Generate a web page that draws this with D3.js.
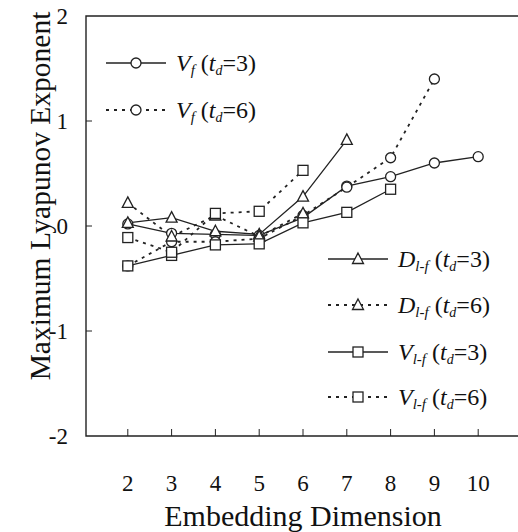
<!DOCTYPE html>
<html lang="en">
<head>
<meta charset="UTF-8">
<title>Maximum Lyapunov Exponent</title>
<script src="https://d3js.org/d3.v7.min.js"></script>
<style>
  body { margin: 0; background: #fff; }
</style>
</head>
<body>
<div id="chart"></div>
<script>
// embedding dimensions
const dims = [2, 3, 4, 5, 6, 7, 8, 9, 10];
const yTicks = [-2, -1, 0, 1, 2];

// series values (start at dimension 2)
const vfTd3  = [0.02, -0.07, -0.08, -0.09, 0.08, 0.38, 0.47, 0.60, 0.66];
const vfTd6  = [-0.38, -0.15, -0.15, -0.12, 0.10, 0.37, 0.65, 1.40];
const dlfTd3 = [0.03, 0.08, -0.05, -0.08, 0.28, 0.82];
const dlfTd6 = [0.22, -0.10, 0.10, -0.10, 0.12];
const vlfTd3 = [-0.38, -0.28, -0.18, -0.17, 0.03, 0.13, 0.35];
const vlfTd6 = [-0.11, -0.25, 0.12, 0.14, 0.53];

const series = [
  {name: "V", sub: "f", td: 3, vals: vfTd3, marker: "circle", dash: null},
  {name: "V", sub: "f", td: 6, vals: vfTd6, marker: "circle", dash: "3,5"},
  {name: "D", sub: "l-f", td: 3, vals: dlfTd3, marker: "triangle", dash: null},
  {name: "D", sub: "l-f", td: 6, vals: dlfTd6, marker: "triangle", dash: "3,5"},
  {name: "V", sub: "l-f", td: 3, vals: vlfTd3, marker: "square", dash: null},
  {name: "V", sub: "l-f", td: 6, vals: vlfTd6, marker: "square", dash: "3,5"}
];

const W = 518, H = 532;
const svg = d3.select("#chart").append("svg")
  .attr("width", W).attr("height", H)
  .attr("font-family", "'Liberation Serif', 'DejaVu Serif', serif")
  .style("font-family", "'Liberation Serif', 'DejaVu Serif', serif");

const x = d3.scaleLinear().domain([1, 11]).range([84, 522]);
const y = d3.scaleLinear().domain([-2, 2]).range([436, 16]);

const frameL = 86, frameT = 16, frameB = 436, frameR = 530;

// frame
svg.append("path")
  .attr("d", `M${frameR},${frameT}H${frameL}V${frameB}H${frameR}`)
  .attr("fill", "none").attr("stroke", "#222").attr("stroke-width", 1.4);

// ticks
svg.selectAll(".yt").data(yTicks.slice(1, -1)).join("line")
  .attr("x1", frameL).attr("x2", frameL + 6)
  .attr("y1", d => y(d)).attr("y2", d => y(d))
  .attr("stroke", "#222");
svg.selectAll(".xt").data(dims).join("line")
  .attr("x1", d => x(d)).attr("x2", d => x(d))
  .attr("y1", frameB).attr("y2", frameB - 7)
  .attr("stroke", "#222");

// tick labels
svg.selectAll(".yl").data(yTicks).join("text")
  .attr("x", 68).attr("y", d => y(d) + 8)
  .attr("text-anchor", "end").attr("font-size", 23)
  .attr("fill", "#111")
  .text(d => d);
svg.selectAll(".xl").data(dims).join("text")
  .attr("x", d => x(d)).attr("y", 491)
  .attr("text-anchor", "middle").attr("font-size", 23)
  .attr("fill", "#111")
  .text(d => d);

// axis titles
svg.append("text")
  .attr("x", 303).attr("y", 526)
  .attr("text-anchor", "middle").attr("font-size", 30)
  .attr("fill", "#111")
  .text("Embedding Dimension");
svg.append("text")
  .attr("transform", "translate(50,196) rotate(-90)")
  .attr("text-anchor", "middle").attr("font-size", 29.5)
  .attr("fill", "#111")
  .text("Maximum Lyapunov Exponent");

function drawMarker(g, type, cx, cy) {
  if (type === "circle") {
    g.append("circle").attr("cx", cx).attr("cy", cy).attr("r", 5)
      .attr("fill", "#fff").attr("stroke", "#222").attr("stroke-width", 1.3);
  } else if (type === "triangle") {
    g.append("path")
      .attr("d", `M${cx},${cy - 6}L${cx + 5.5},${cy + 4.5}L${cx - 5.5},${cy + 4.5}Z`)
      .attr("fill", "#fff").attr("stroke", "#222").attr("stroke-width", 1.3);
  } else {
    g.append("rect").attr("x", cx - 5).attr("y", cy - 5)
      .attr("width", 10).attr("height", 10)
      .attr("fill", "#fff").attr("stroke", "#222").attr("stroke-width", 1.3);
  }
}

const line = d3.line().x(d => x(d[0])).y(d => y(d[1]));

// lines first, then markers on top
series.forEach(s => {
  const pts = s.vals.map((v, i) => [dims[i], v]);
  svg.append("path").datum(pts)
    .attr("d", line)
    .attr("fill", "none").attr("stroke", "#222")
    .attr("stroke-width", s.dash ? 1.8 : 1.3)
    .attr("stroke-dasharray", s.dash);
});
series.forEach(s => {
  const g = svg.append("g");
  s.vals.forEach((v, i) => drawMarker(g, s.marker, x(dims[i]), y(v)));
});

// legends: first two top-left, rest lower right
const legendPos = [
  {x0: 106, y: 63}, {x0: 106, y: 110},
  {x0: 328, y: 259}, {x0: 328, y: 305}, {x0: 328, y: 352}, {x0: 328, y: 397}
];
series.forEach((s, i) => {
  const p = legendPos[i];
  const g = svg.append("g");
  g.append("line")
    .attr("x1", p.x0).attr("x2", p.x0 + 60)
    .attr("y1", p.y).attr("y2", p.y)
    .attr("stroke", "#222")
    .attr("stroke-width", s.dash ? 1.8 : 1.3)
    .attr("stroke-dasharray", s.dash);
  drawMarker(g, s.marker, p.x0 + 30, p.y);
  const t = g.append("text")
    .attr("x", p.x0 + 70).attr("y", p.y + 8)
    .attr("font-size", 24).attr("fill", "#111");
  t.append("tspan").attr("font-style", "italic").text(s.name);
  t.append("tspan").attr("font-style", "italic").attr("font-size", 15)
    .attr("dy", 4).text(s.sub);
  t.append("tspan").attr("dy", -4).text(" (");
  t.append("tspan").attr("font-style", "italic").text("t");
  t.append("tspan").attr("font-style", "italic").attr("font-size", 14)
    .attr("dy", 4).text("d");
  t.append("tspan").attr("dy", -4).text("=" + s.td + ")");
});
</script>
</body>
</html>
